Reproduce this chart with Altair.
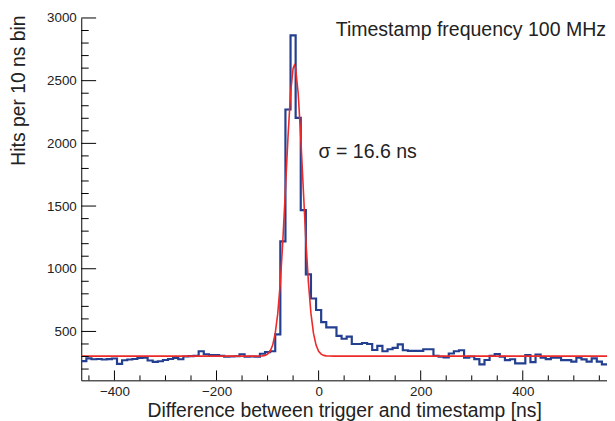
import altair as alt
import pandas as pd

# ---- histogram (10 ns bins, first bin starts at -465 ns) ----
bin_start = -465
bin_width = 10
counts = [
    263, 285, 278, 280, 276, 279, 284, 242, 270, 276,   # -460 .. -370
    280, 288, 290, 268, 257, 262, 272, 280, 288, 278,   # -360 .. -270
    300, 303, 305, 342, 318, 312, 312, 305, 298, 300,   # -260 .. -170
    302, 318, 298, 300, 298, 322, 335, 342, 477, 1218,  # -160 .. -70
    2270, 2861, 2203, 1468, 955, 763, 671, 574, 532, 532,  # -60 .. 30
    465, 442, 458, 400, 400, 408, 400, 352, 385, 342,   # 40 .. 130
    358, 369, 397, 350, 345, 345, 345, 358, 358, 306,   # 140 .. 230
    298, 292, 324, 342, 350, 290, 300, 279, 237, 272,   # 240 .. 330
    306, 320, 298, 271, 278, 245, 245, 311, 255, 316,   # 340 .. 430
    290, 279, 290, 290, 271, 271, 259, 290, 277, 259,   # 440 .. 530
    285, 259, 237,                                      # 540 .. 560
]

# ---- Gaussian fit curve ----
fit_x = [-465, -140, -130, -120, -115, -110, -105, -100, -95, -90, -85, -80,
         -75, -70, -65, -60, -55, -50, -47.5, -45, -40, -35, -30, -25, -20,
         -15, -10, -5, 0, 5, 10, 15, 20, 30, 565]
fit_y = [303, 303, 303, 303, 304, 305, 309, 319, 342, 391, 484, 644,
         891, 1229, 1634, 2050, 2398, 2597, 2623, 2597, 2398, 2050, 1634, 1229, 891,
         644, 484, 391, 342, 319, 309, 305, 304, 303, 303]

# ---- axes ----
x_domain = [-465, 565]
y_domain = [110, 3000]
x_major = [-400, -200, 0, 200, 400]
x_minor = [-450, -350, -300, -250, -150, -100, -50, 50, 100, 150, 250, 300, 350, 450, 500, 550]
y_major = [500, 1000, 1500, 2000, 2500, 3000]
y_minor = [200, 300, 400, 600, 700, 800, 900, 1100, 1200, 1300, 1400, 1600, 1700,
           1800, 1900, 2100, 2200, 2300, 2400, 2600, 2700, 2800, 2900]

# ---- annotations ----
notes_text = ["Timestamp frequency 100 MHz", "σ = 16.6 ns"]
notes_x = [563, 0]
notes_y = [2860, 1883]

FONT = "Liberation Sans"
W, H = 531, 366

edges = [bin_start + i * bin_width for i in range(len(counts) + 1)]
hist_df = pd.DataFrame({"x": edges, "y": counts + [counts[-1]]})
fit_df = pd.DataFrame({"x": fit_x, "y": fit_y})

xs = alt.Scale(domain=x_domain, nice=False, zero=False)
ys = alt.Scale(domain=y_domain, nice=False, zero=False)

x_axis = alt.Axis(values=x_major, ticks=False, grid=False, domain=True, domainColor="black",
                  domainWidth=1, labelFont=FONT, labelFontSize=13.5, labelColor="#222",
                  labelPadding=4, format="d", labelFlush=False,
                  title="Difference between trigger and timestamp [ns]",
                  titleFont=FONT, titleFontSize=19.5, titleFontWeight="normal",
                  titleColor="#222", titleBaseline="alphabetic", titleY=37)
y_axis = alt.Axis(values=y_major, ticks=False, grid=False, domain=True, domainColor="black",
                  domainWidth=1, labelFont=FONT, labelFontSize=13.5, labelColor="#222",
                  labelPadding=5, format="d", labelFlush=False,
                  title="Hits per 10 ns bin", titleFont=FONT, titleFontSize=19.5,
                  titleFontWeight="normal", titleColor="#222", titleAngle=270,
                  titleAlign="right", titleBaseline="middle", titleX=-63, titleY=-3)

hist = alt.Chart(hist_df).mark_line(interpolate="step-after", color="#233f8f",
                                     strokeWidth=2.2).encode(
    x=alt.X("x:Q", scale=xs, axis=x_axis),
    y=alt.Y("y:Q", scale=ys, axis=y_axis),
)

fit = alt.Chart(fit_df).mark_line(color="#ec2a2a", strokeWidth=1.6).encode(
    x=alt.X("x:Q"),
    y=alt.Y("y:Q"),
)

xmaj = alt.Chart(pd.DataFrame({"x": x_major})).mark_rule(color="black", strokeWidth=1).encode(
    x=alt.X("x:Q"), y=alt.value(H), y2=alt.value(H - 10))
xmin = alt.Chart(pd.DataFrame({"x": x_minor})).mark_rule(color="black", strokeWidth=1).encode(
    x=alt.X("x:Q"), y=alt.value(H), y2=alt.value(H - 5))
ymaj = alt.Chart(pd.DataFrame({"y": y_major})).mark_rule(color="black", strokeWidth=1).encode(
    y=alt.Y("y:Q"), x=alt.value(0), x2=alt.value(15))
ymin = alt.Chart(pd.DataFrame({"y": y_minor})).mark_rule(color="black", strokeWidth=1).encode(
    y=alt.Y("y:Q"), x=alt.value(0), x2=alt.value(7.5))

notes_df = pd.DataFrame({"t": notes_text, "x": notes_x, "y": notes_y})
note_r = alt.Chart(notes_df.iloc[[0]]).mark_text(font=FONT, fontSize=19.7, color="#222",
                                                 align="right", baseline="alphabetic").encode(
    x=alt.X("x:Q"), y=alt.Y("y:Q"), text="t:N")
note_l = alt.Chart(notes_df.iloc[[1]]).mark_text(font=FONT, fontSize=19.7, color="#222",
                                                 align="left", baseline="alphabetic").encode(
    x=alt.X("x:Q"), y=alt.Y("y:Q"), text="t:N")

chart = alt.layer(hist, fit, xmaj, xmin, ymaj, ymin, note_r, note_l).properties(
    width=W, height=H,
    padding={"left": 74, "top": 8, "right": 0, "bottom": 40},
    autosize=alt.AutoSizeParams(type="none"),
    background="white",
).configure_view(stroke=None)

chart.save("out.html", embed_options={"renderer": "svg", "actions": False})
